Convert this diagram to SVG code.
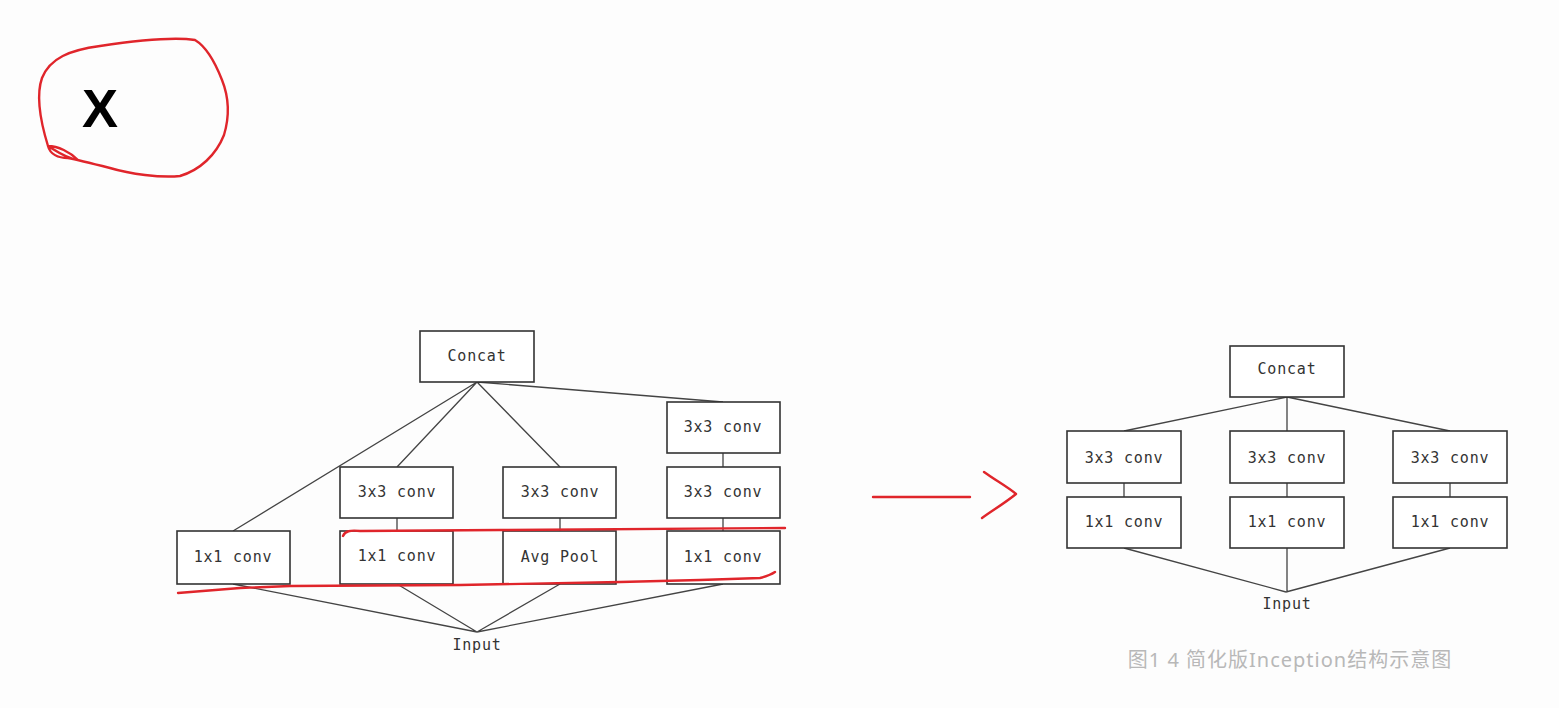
<svg xmlns="http://www.w3.org/2000/svg" width="1559" height="708" viewBox="0 0 1559 708">
<style>
.box{fill:#fff;stroke:#333;stroke-width:1.6}
.lbl{font-family:"DejaVu Sans Mono","Liberation Mono",monospace;font-size:15px;fill:#333;text-anchor:middle;letter-spacing:0.8px}
.ln{stroke:#444;stroke-width:1.3;fill:none}
.red{stroke:#e0252b;stroke-width:2.4;fill:none;stroke-linecap:round;stroke-linejoin:round}
</style>
<rect width="1559" height="708" fill="#fdfdfd"/>
<g id="mark-x">
<path class="red" d="M48,146 C40,120 36,95 42,78 C50,58 70,50 100,46 C140,40 175,37 195,40 C205,46 215,62 222,80 C228,95 230,115 224,135 C216,155 200,170 180,176 C160,178 130,174 110,168 C90,163 78,160 68,158 C58,158 50,154 48,146 C55,150 65,158 78,160 C70,152 58,146 48,146 Z"/>
<text x="100" y="127" font-family="Liberation Sans, Arial, sans-serif" font-weight="bold" font-size="54" text-anchor="middle" fill="#000">X</text>
</g>
<g id="connectors">
<path class="ln" d="M477,382 L233,531 M477,382 L397,467 M477,382 L560,467 M477,382 L723,402"/>
<path class="ln" d="M723,453 V467 M397,518 V531 M560,518 V531 M723,518 V531"/>
<path class="ln" d="M233,584 L477,632 M397,584 L477,632 M560,584 L477,632 M723,584 L477,632"/>
<path class="ln" d="M1287,397 L1124,431 M1287,397 V431 M1287,397 L1450,431"/>
<path class="ln" d="M1124,483 V497 M1287,483 V497 M1450,483 V497"/>
<path class="ln" d="M1124,548 L1286,592 M1287,548 V592 M1450,548 L1286,592"/>
</g>
<g id="l-concat"><rect class="box" x="420" y="331" width="114" height="51"/><text class="lbl" x="477" y="361">Concat</text></g>
<g id="l-3x3-top"><rect class="box" x="667" y="402" width="113" height="51"/><text class="lbl" x="723" y="432">3x3 conv</text></g>
<g id="l-3x3-a"><rect class="box" x="340" y="467" width="113" height="51"/><text class="lbl" x="397" y="497">3x3 conv</text></g>
<g id="l-3x3-b"><rect class="box" x="503" y="467" width="113" height="51"/><text class="lbl" x="560" y="497">3x3 conv</text></g>
<g id="l-3x3-c"><rect class="box" x="667" y="467" width="113" height="51"/><text class="lbl" x="723" y="497">3x3 conv</text></g>
<g id="l-1x1-a"><rect class="box" x="177" y="531" width="113" height="53"/><text class="lbl" x="233" y="562">1x1 conv</text></g>
<g id="l-1x1-b"><rect class="box" x="340" y="531" width="113" height="53"/><text class="lbl" x="397" y="561">1x1 conv</text></g>
<g id="l-pool"><rect class="box" x="503" y="531" width="113" height="53"/><text class="lbl" x="560" y="562">Avg Pool</text></g>
<g id="l-1x1-c"><rect class="box" x="667" y="531" width="113" height="53"/><text class="lbl" x="723" y="562">1x1 conv</text></g>
<g id="l-input"><text class="lbl" x="477" y="650">Input</text></g>
<g id="red-marks">
<path class="red" d="M343,536 C345,531 350,530 360,531 L500,530 L785,528"/>
<path class="red" d="M178,593 L240,588 L290,586 L460,585 L620,582 L700,580 L760,578 C768,576 772,574 775,572"/>
<path class="red" d="M873,497 L970,497"/>
<path class="red" stroke-width="3" d="M984,472 C995,480 1008,487 1016,494 C1005,503 993,510 982,518"/>
</g>
<g id="r-concat"><rect class="box" x="1230" y="346" width="114" height="51"/><text class="lbl" x="1287" y="374">Concat</text></g>
<g id="r-3x3-a"><rect class="box" x="1067" y="431" width="114" height="52"/><text class="lbl" x="1124" y="463">3x3 conv</text></g>
<g id="r-3x3-b"><rect class="box" x="1230" y="431" width="114" height="52"/><text class="lbl" x="1287" y="463">3x3 conv</text></g>
<g id="r-3x3-c"><rect class="box" x="1393" y="431" width="114" height="52"/><text class="lbl" x="1450" y="463">3x3 conv</text></g>
<g id="r-1x1-a"><rect class="box" x="1067" y="497" width="114" height="51"/><text class="lbl" x="1124" y="527">1x1 conv</text></g>
<g id="r-1x1-b"><rect class="box" x="1230" y="497" width="114" height="51"/><text class="lbl" x="1287" y="527">1x1 conv</text></g>
<g id="r-1x1-c"><rect class="box" x="1393" y="497" width="114" height="51"/><text class="lbl" x="1450" y="527">1x1 conv</text></g>
<g id="r-input"><text class="lbl" x="1287" y="609">Input</text></g>
<text x="1290" y="667" font-family="Noto Sans, 'Noto Sans CJK SC', sans-serif" font-size="20" fill="#b8b8b8" text-anchor="middle" letter-spacing="1">图1 4 简化版Inception结构示意图</text>
</svg>
